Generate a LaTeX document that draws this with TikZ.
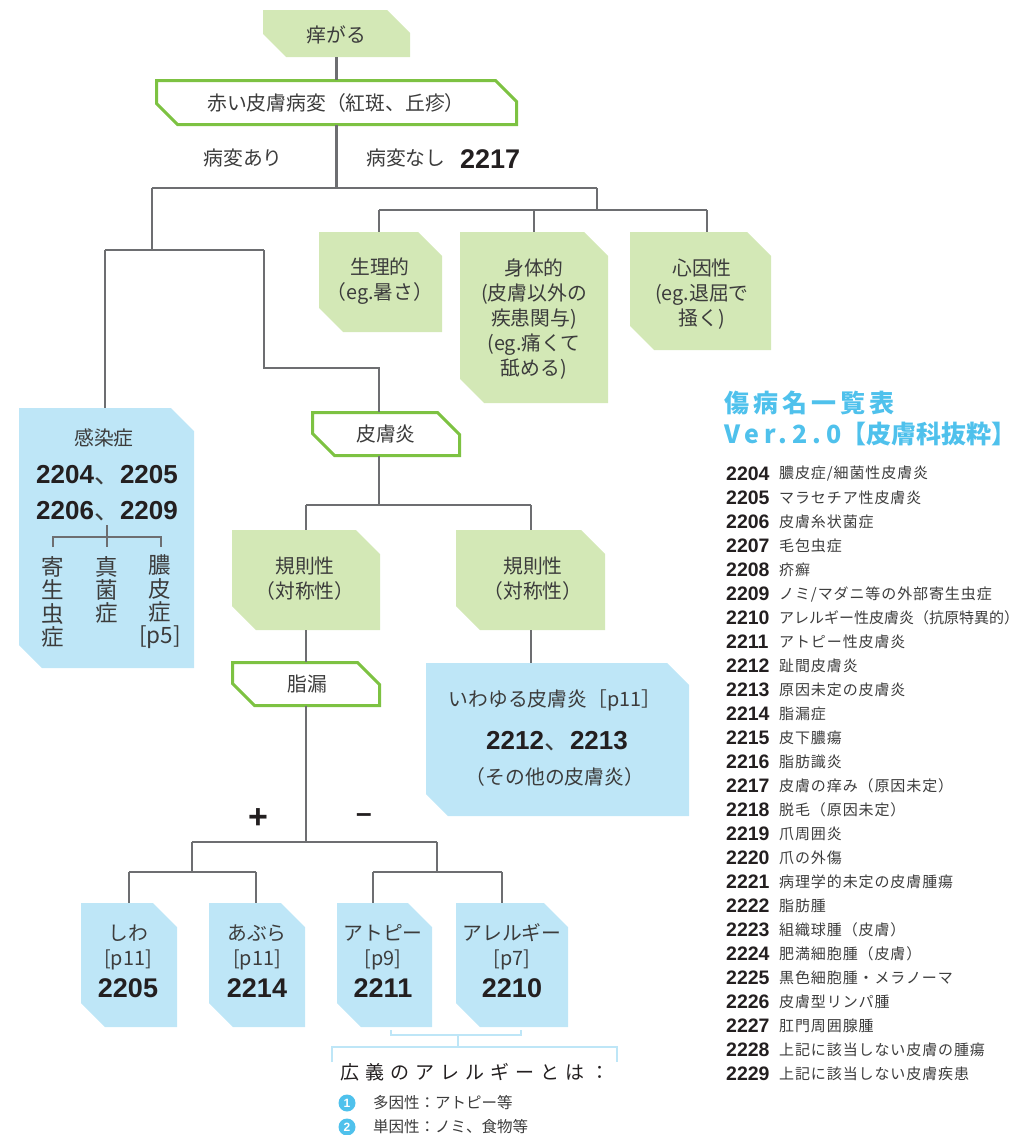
\documentclass[tikz,border=0pt]{standalone}
\usepackage{fontspec}
\setmainfont{Noto Sans CJK JP}
\newfontfamily\numf{Liberation Sans}
\definecolor{gfill}{HTML}{D3E8B6}
\definecolor{gline}{HTML}{7DC242}
\definecolor{bfill}{HTML}{BEE6F7}
\definecolor{lgray}{HTML}{6D6E71}
\definecolor{txt}{HTML}{3C3C3C}
\definecolor{numc}{HTML}{231F20}
\definecolor{cyanc}{HTML}{4FC1EC}
\newcommand\mychbox[7]{%
  \path[#1] (#3,#4) -- ({#5-#7},#4) -- (#5,{#4+#7}) -- (#5,#6) -- ({#3+#7},#6) -- (#3,{#6-#7}) -- cycle;
  \node[boxnode, minimum width={(#5-#3)*1pt}, minimum height={(#6-#4)*1pt}] (#2) at ({(#3+#5)/2},{(#4+#6)/2}) {};
}
\newcommand\nb[1]{{\numf\bfseries\color{numc}#1}}
\tikzset{
  every node/.style={text=txt, inner sep=0pt},
  boxnode/.style={rectangle, inner sep=0pt, draw=none},
  greenbox/.style={fill=gfill},
  bluebox/.style={fill=bfill},
  outbox/.style={draw=gline, line width=3pt, fill=white, line join=miter},
  conn/.style={draw=lgray, line width=2.8pt},
  small conn/.style={draw=lgray, line width=2.4pt},
  brk/.style={draw=bfill, line width=2.2pt},
  t19/.style={font=\fontsize{19.8}{25}\selectfont, align=center},
  tcol/.style={font=\fontsize{22.5}{23.3}\selectfont, align=center},
  big/.style={font=\fontsize{26}{30}\selectfont, align=center},
  listnum/.style={anchor=west, font=\numf\bfseries\fontsize{19.5}{19.5}\selectfont, text=numc},
  listtxt/.style={anchor=west, font=\fontsize{15}{15}\selectfont\addfontfeature{LetterSpace=6}},
  title/.style={anchor=west, text=cyanc, font=\bfseries\fontsize{25}{25}\selectfont},
  dot/.style={circle, fill=cyanc, minimum size=17pt, inner sep=0pt, text=white, font=\numf\bfseries\fontsize{12}{12}\selectfont},
}
\begin{document}
\begin{tikzpicture}[x=1pt,y=-1pt]
\useasboundingbox (0,0) rectangle (1020,1135);

% ---------- boxes ----------
\mychbox{greenbox}{itch}{263}{10}{410}{57}{23}
\mychbox{outbox}{red}{156.5}{80.5}{516.5}{124.5}{21}
\mychbox{greenbox}{phys}{319}{232}{442}{332}{24}
\mychbox{greenbox}{body}{460}{232}{608}{403}{24}
\mychbox{greenbox}{psy}{630}{232}{771}{350}{24}
\mychbox{bluebox}{inf}{19}{408}{194}{668}{23}
\mychbox{outbox}{derm}{312.5}{412.5}{459.5}{455.5}{22}
\mychbox{greenbox}{regA}{232}{530}{380}{630}{24}
\mychbox{greenbox}{regB}{456}{530}{605}{630}{24}
\mychbox{outbox}{fat}{232.5}{662.5}{379.5}{705.5}{22}
\mychbox{bluebox}{iw}{426}{663}{689}{816}{22}
\mychbox{bluebox}{wr}{81}{903}{177}{1027}{24}
\mychbox{bluebox}{oil}{209}{903}{305}{1027}{24}
\mychbox{bluebox}{ato}{337}{903}{432}{1027}{24}
\mychbox{bluebox}{all}{456}{903}{568}{1027}{24}

% ---------- texts in boxes ----------
\node[t19] (itcht) at (336.5,35) {痒がる};
\node[t19] (redt) at (336,103) {赤い皮膚病変（紅斑、丘疹）};
\node[t19] (yes) at (243,158) {病変あり};
\node[t19, anchor=west] (no) at (366,158) {病変なし};
\node[big, anchor=west] (n2217) at (460,159) {\nb{\fontsize{27}{30}\selectfont 2217}};
\node[t19] (physt) at (380,281) {生理的\\（eg.暑さ）};
\node[t19] (bodyt) at (534,319) {身体的\\(皮膚以外の\\疾患関与)\\(eg.痛くて\\舐める)};
\node[t19] (psyt) at (702,294) {心因性\\(eg.退屈で\\掻く)};

\node[t19] (inft) at (104,438) {感染症};
\node[big] (infn1) at (107,475) {\nb{2204}\fontsize{26}{30}\selectfont 、\nb{2205}};
\node[big] (infn2) at (107,511) {\nb{2206}\fontsize{26}{30}\selectfont 、\nb{2209}};
\node[tcol] (colA) at (53,602) {寄\\生\\虫\\症};
\node[tcol] (colB) at (107,590) {真\\菌\\症};
\node[tcol] (colC) at (160,602) {膿\\皮\\症\\{[p5]}};

\node[t19] (dermt) at (386,434) {皮膚炎};
\node[t19] (regAt) at (305,579) {規則性\\（対称性）};
\node[t19] (regBt) at (533,579) {規則性\\（対称性）};
\node[t19] (fatt) at (307,684) {脂漏};
\node[t19] (iwt1) at (555,700) {いわゆる皮膚炎［p11］};
\node[big] (iwt2) at (557,741) {\nb{2212}\fontsize{26}{30}\selectfont 、\nb{2213}};
\node[t19] (iwt3) at (555,777) {（その他の皮膚炎）};

\node[font=\numf\bfseries\fontsize{34}{34}\selectfont, text=numc] (plus) at (258,819) {+};
\node[font=\numf\bfseries\fontsize{28}{28}\selectfont, text=numc] (minus) at (364,818) {–};

\node[t19] (wrt) at (128,947) {しわ\\{[p11]}};
\node[big] (wrn) at (128,988) {\nb{\fontsize{27}{30}\selectfont 2205}};
\node[t19] (oilt) at (257,947) {あぶら\\{[p11]}};
\node[big] (oiln) at (257,988) {\nb{\fontsize{27}{30}\selectfont 2214}};
\node[t19] (atot) at (383,947) {アトピー\\{[p9]}};
\node[big] (aton) at (383,988) {\nb{\fontsize{27}{30}\selectfont 2211}};
\node[t19] (allt) at (512,947) {アレルギー\\{[p7]}};
\node[big] (alln) at (512,988) {\nb{\fontsize{27}{30}\selectfont 2210}};

% ---------- main tree ----------
\coordinate (j1) at (336.5,188);
\coordinate (j1L) at (152,188);
\coordinate (j1R) at (597,188);
\coordinate (j2) at (152,250);
\coordinate (j2L) at (105,250);
\coordinate (j2R) at (264,250);
\coordinate (j3) at (379,368);
\coordinate (j4) at (597,210);
\coordinate (j4L) at (379,210);
\coordinate (j4M) at (534,210);
\coordinate (j4R) at (707,210);
\coordinate (j5) at (379,505);
\coordinate (j5L) at (306,505);
\coordinate (j5R) at (531,505);
\coordinate (j6) at (306,842);
\coordinate (j6L) at (192,842);
\coordinate (j6R) at (437,842);
\coordinate (j7LL) at (129,872);
\coordinate (j7LR) at (256,872);
\coordinate (j7RL) at (373,872);
\coordinate (j7RR) at (502,872);

\draw[conn] (itch.south) -- (red.north);
\draw[conn] (red.south) -- (j1);
\draw[conn] (j1L) -- (j1R);
\draw[conn] (j1L) -- (j2);
\draw[conn] (j2L) -- (j2R);
\draw[conn] (j2L) -- (j2L |- inf.north);
\draw[conn] (j2R) |- (j3) -- (j3 |- derm.north);
\draw[conn] (j1R) -- (j4);
\draw[conn] (j4L) -- (j4R);
\draw[conn] (j4L) -- (j4L |- phys.north);
\draw[conn] (j4M) -- (j4M |- body.north);
\draw[conn] (j4R) -- (j4R |- psy.north);
\draw[conn] (j3 |- derm.south) -- (j5);
\draw[conn] (j5L) -- (j5R);
\draw[conn] (j5L) -- (j5L |- regA.north);
\draw[conn] (j5R) -- (j5R |- regB.north);
\draw[conn] (j5L |- regA.south) -- (j5L |- fat.north);
\draw[conn] (j5R |- regB.south) -- (j5R |- iw.north);
\draw[conn] (j6 |- fat.south) -- (j6);
\draw[conn] (j6L) -- (j6R);
\draw[conn] (j6L) -- (j6L |- j7LL);
\draw[conn] (j7LL) -- (j7LR);
\draw[conn] (j7LL) -- (j7LL |- wr.north);
\draw[conn] (j7LR) -- (j7LR |- oil.north);
\draw[conn] (j6R) -- (j6R |- j7RL);
\draw[conn] (j7RL) -- (j7RR);
\draw[conn] (j7RL) -- (j7RL |- ato.north);
\draw[conn] (j7RR) -- (j7RR |- all.north);

% small tree inside infection box
\coordinate (k0) at (107,525);
\coordinate (kR) at (161,537);
\coordinate (kLb) at (53,547);
\coordinate (kMb) at (107,547);
\coordinate (kRb) at (161,547);
\draw[small conn] (k0) -- (kMb);
\draw[small conn] (kLb) |- (kR) -- (kRb);

% ---------- bracket & note ----------
\coordinate (b1) at (391,1030);
\coordinate (b2) at (521,1030);
\coordinate (b3) at (458,1035);
\coordinate (b4) at (458,1047);
\coordinate (b5) at (332,1062);
\coordinate (b6) at (617,1062);
\draw[brk] (b1) |- (b3) -| (b2);
\draw[brk] (b3) -- (b4);
\draw[brk] (b5) |- (b4) -| (b6);
\node[anchor=west, font=\fontsize{19}{19}\selectfont\addfontfeature{LetterSpace=32}, text=numc] (wide) at (340,1072) {広義のアレルギーとは：};
\node[dot] (c1) at (347,1103) {1};
\node[dot] (c2) at (347,1127) {2};
\node[anchor=west, font=\fontsize{15.5}{15.5}\selectfont] (it1) at (373,1103) {多因性：アトピー等};
\node[anchor=west, font=\fontsize{15.5}{15.5}\selectfont] (it2) at (373,1127) {単因性：ノミ、食物等};

% ---------- right list ----------
\node[title] (ttl1) at (724,403) {\addfontfeature{LetterSpace=16}傷病名一覧表};
\node[title] (ttl2) at (724,434) {{\addfontfeature{LetterSpace=20}Ver.2.0}【皮膚科抜粋】};
\foreach \n/\t [count=\i from 0] in {2204/{膿皮症/細菌性皮膚炎},2205/{マラセチア性皮膚炎},2206/{皮膚糸状菌症},2207/{毛包虫症},2208/{疥癬},2209/{ノミ/マダニ等の外部寄生虫症},2210/{\addfontfeature{LetterSpace=0}アレルギー性皮膚炎（抗原特異的）},2211/{アトピー性皮膚炎},2212/{趾間皮膚炎},2213/{原因未定の皮膚炎},2214/{脂漏症},2215/{皮下膿瘍},2216/{脂肪識炎},2217/{皮膚の痒み（原因未定）},2218/{脱毛（原因未定）},2219/{爪周囲炎},2220/{爪の外傷},2221/{病理学的未定の皮膚腫瘍},2222/{脂肪腫},2223/{組織球腫（皮膚）},2224/{肥満細胞腫（皮膚）},2225/{黒色細胞腫・メラノーマ},2226/{皮膚型リンパ腫},2227/{肛門周囲腺腫},2228/{上記に該当しない皮膚の腫瘍},2229/{上記に該当しない皮膚疾患}}{
  \node[listnum] (num\i) at (726,{474+24*\i}) {\n};
  \node[listtxt] (lab\i) at (779,{474+24*\i}) {\t};
}
\end{tikzpicture}
\end{document}
